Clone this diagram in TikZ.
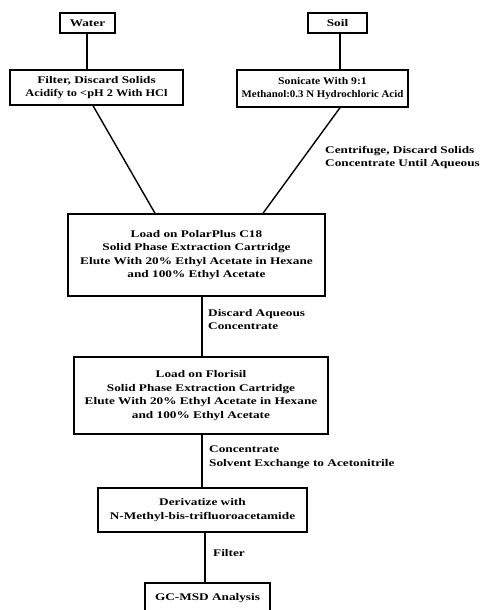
\documentclass[tikz,border=0pt]{standalone}
\usepackage{graphicx}
\usepackage{fontspec}
\setmainfont{Liberation Serif}[FakeStretch=1.3]
\begin{document}
\begin{tikzpicture}[x=1pt,y=-1pt,
  txt/.style={font=\bfseries\fontsize{10.2}{13.5}\selectfont},
  box/.style={txt,draw=black,line width=1.4pt,inner sep=0pt,align=center},
  lbl/.style={txt,inner sep=0pt,align=left,anchor=north west},
  conn/.style={draw=black,line width=1.4pt}]
\useasboundingbox (0,0) rectangle (481,610);
\node[box,minimum width=55,minimum height=20] (water) at (87.5,23) {Water};
\node[box,minimum width=59,minimum height=20] (soil) at (337.5,23) {Soil};
\node[box,minimum width=173,minimum height=35] (filter) at (96.5,87.5) {Filter, Discard Solids\\\scalebox{0.93}[1]{Acidify to <pH 2 With HCl}};
\node[box,minimum width=171,minimum height=37] (sonic) at (322.5,88.5) {\scalebox{0.88}[1]{Sonicate With 9:1}\\\scalebox{0.82}[1]{Methanol:0.3 N Hydrochloric Acid}};
\node[box,minimum width=257,minimum height=82] (load) at (196.5,255) {Load on PolarPlus C18\\Solid Phase Extraction Cartridge\\Elute With 20\% Ethyl Acetate in Hexane\\and 100\% Ethyl Acetate};
\node[box,minimum width=254,minimum height=77] (flor) at (201,395.5) {Load on Florisil\\Solid Phase Extraction Cartridge\\Elute With 20\% Ethyl Acetate in Hexane\\and 100\% Ethyl Acetate};
\node[box,minimum width=209,minimum height=44] (deriv) at (202.5,510) {Derivatize with\\N-Methyl-bis-trifluoroacetamide};
\node[box,minimum width=125,minimum height=50] (gc) at (207.5,608) {};
\node[txt,inner sep=0pt] (gct) at (207.5,598) {GC-MSD Analysis};
\coordinate (w1) at (87,33);
\draw[conn] (w1) -- (w1 |- filter.north);
\coordinate (s1) at (340,33);
\draw[conn] (s1) -- (s1 |- sonic.north);
\draw[conn] ([xshift=-3.5]filter.south) -- ([xshift=-41.5]load.north);
\draw[conn] ([xshift=17.5]sonic.south) -- ([xshift=66.5]load.north);
\draw[conn] ([xshift=5.5]load.south) -- ([xshift=1]flor.north);
\draw[conn] ([xshift=1]flor.south) -- ([xshift=-0.5]deriv.north);
\coordinate (d1) at ([xshift=2.5]deriv.south);
\draw[conn] (d1) -- (d1 |- gc.north);
\node[lbl] (l1) at (325,146) {Centrifuge, Discard Solids\\Concentrate Until Aqueous};
\node[lbl] (l2) at (208,309) {Discard Aqueous\\Concentrate};
\node[lbl] (l3) at (209,446) {Concentrate\\Solvent Exchange to Acetonitrile};
\node[lbl] (l4) at (213,549) {Filter};
\end{tikzpicture}
\end{document}
